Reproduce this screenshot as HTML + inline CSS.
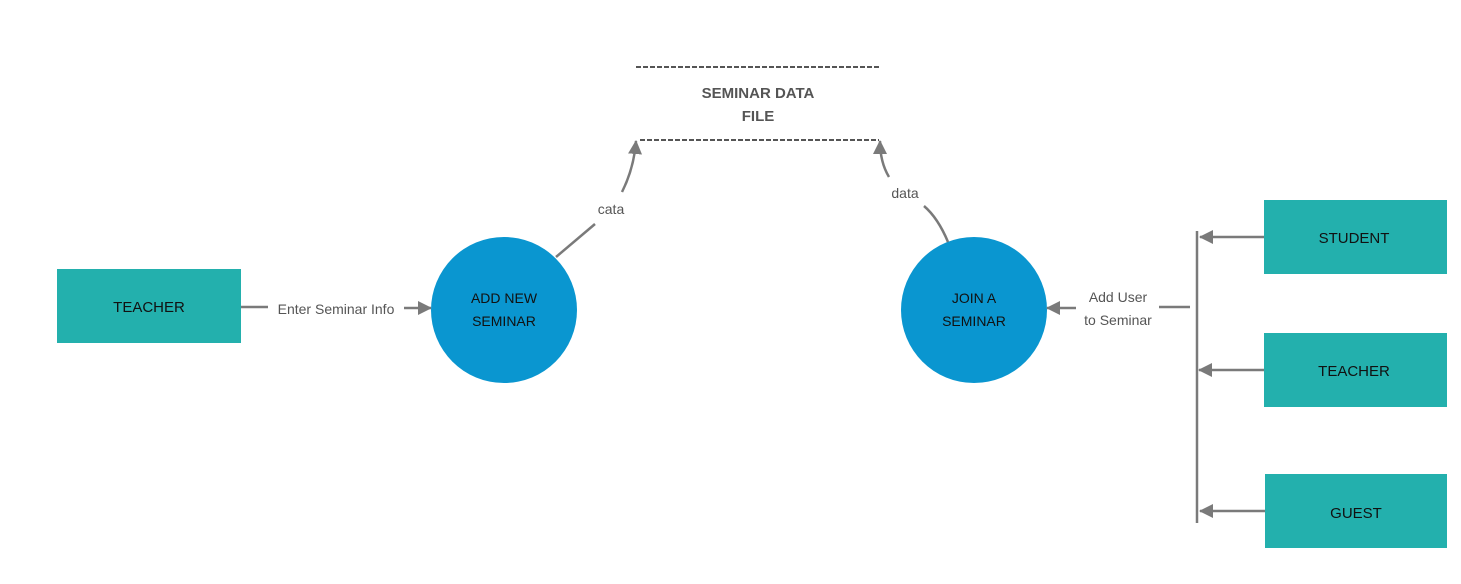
<!DOCTYPE html>
<html><head><meta charset="utf-8"><style>
html,body{margin:0;padding:0;background:#fff;}
svg{display:block;font-family:"Liberation Sans",sans-serif;}
</style></head><body>
<svg width="1461" height="584" viewBox="0 0 1461 584" xmlns="http://www.w3.org/2000/svg">
<defs>
<marker id="a" markerWidth="10" markerHeight="10" refX="9" refY="5" orient="auto" markerUnits="userSpaceOnUse"><path d="M0,0 L10,5 L0,10 z" fill="#7a7a7a"/></marker>
<marker id="b" markerWidth="14" markerHeight="14" refX="13" refY="7" orient="auto" markerUnits="userSpaceOnUse"><path d="M0,0 L14,7 L0,14 z" fill="#7a7a7a"/></marker>
</defs>
<rect width="1461" height="584" fill="#fff"/>
<!-- data store -->
<line x1="636" y1="67" x2="879" y2="67" stroke="#555" stroke-width="2" stroke-dasharray="5,2"/>
<line x1="640" y1="140" x2="879" y2="140" stroke="#555" stroke-width="2" stroke-dasharray="5,2"/>
<text x="758" y="98" text-anchor="middle" font-size="15" font-weight="bold" fill="#555">SEMINAR DATA</text>
<text x="758" y="121" text-anchor="middle" font-size="15" font-weight="bold" fill="#555">FILE</text>
<!-- teacher left -->
<rect x="57" y="269" width="184" height="74" fill="#23b0ad"/>
<text x="149" y="312" text-anchor="middle" font-size="15" fill="#111">TEACHER</text>
<line x1="241" y1="307" x2="268" y2="307" stroke="#7a7a7a" stroke-width="2.5"/>
<line x1="404" y1="308" x2="431" y2="308" stroke="#7a7a7a" stroke-width="2.5" marker-end="url(#b)"/>
<text x="336" y="314" text-anchor="middle" font-size="14" fill="#555">Enter Seminar Info</text>
<!-- circles -->
<circle cx="504" cy="310" r="73" fill="#0a96d0"/>
<text x="504" y="303" text-anchor="middle" font-size="14" fill="#111">ADD NEW</text>
<text x="504" y="326" text-anchor="middle" font-size="14" fill="#111">SEMINAR</text>
<circle cx="974" cy="310" r="73" fill="#0a96d0"/>
<text x="974" y="303" text-anchor="middle" font-size="14" fill="#111">JOIN A</text>
<text x="974" y="326" text-anchor="middle" font-size="14" fill="#111">SEMINAR</text>
<!-- cata -->
<path d="M556,257 L595,224" stroke="#7a7a7a" stroke-width="2.5" fill="none"/>
<path d="M622,192 Q634,168 636,141" stroke="#7a7a7a" stroke-width="2.5" fill="none" marker-end="url(#b)"/>
<text x="611" y="214" text-anchor="middle" font-size="14" fill="#555">cata</text>
<!-- data right -->
<path d="M948,242 Q938,218 924,206" stroke="#7a7a7a" stroke-width="2.5" fill="none"/>
<path d="M889,177 Q880,162 880,141" stroke="#7a7a7a" stroke-width="2.5" fill="none" marker-end="url(#b)"/>
<text x="905" y="198" text-anchor="middle" font-size="14" fill="#555">data</text>
<!-- add user -->
<line x1="1190" y1="307" x2="1159" y2="307" stroke="#7a7a7a" stroke-width="2.5"/>
<line x1="1076" y1="308" x2="1047" y2="308" stroke="#7a7a7a" stroke-width="2.5" marker-end="url(#b)"/>
<text x="1118" y="302" text-anchor="middle" font-size="14" fill="#555">Add User</text>
<text x="1118" y="325" text-anchor="middle" font-size="14" fill="#555">to Seminar</text>
<line x1="1197" y1="231" x2="1197" y2="523" stroke="#7a7a7a" stroke-width="2.5"/>
<!-- right boxes -->
<rect x="1264" y="200" width="183" height="74" fill="#23b0ad"/>
<text x="1354" y="243" text-anchor="middle" font-size="15" fill="#111">STUDENT</text>
<rect x="1264" y="333" width="183" height="74" fill="#23b0ad"/>
<text x="1354" y="376" text-anchor="middle" font-size="15" fill="#111">TEACHER</text>
<rect x="1265" y="474" width="182" height="74" fill="#23b0ad"/>
<text x="1356" y="518" text-anchor="middle" font-size="15" fill="#111">GUEST</text>
<line x1="1264" y1="237" x2="1200" y2="237" stroke="#7a7a7a" stroke-width="2.5" marker-end="url(#b)"/>
<line x1="1264" y1="370" x2="1199" y2="370" stroke="#7a7a7a" stroke-width="2.5" marker-end="url(#b)"/>
<line x1="1265" y1="511" x2="1200" y2="511" stroke="#7a7a7a" stroke-width="2.5" marker-end="url(#b)"/>
</svg>
</body></html>
